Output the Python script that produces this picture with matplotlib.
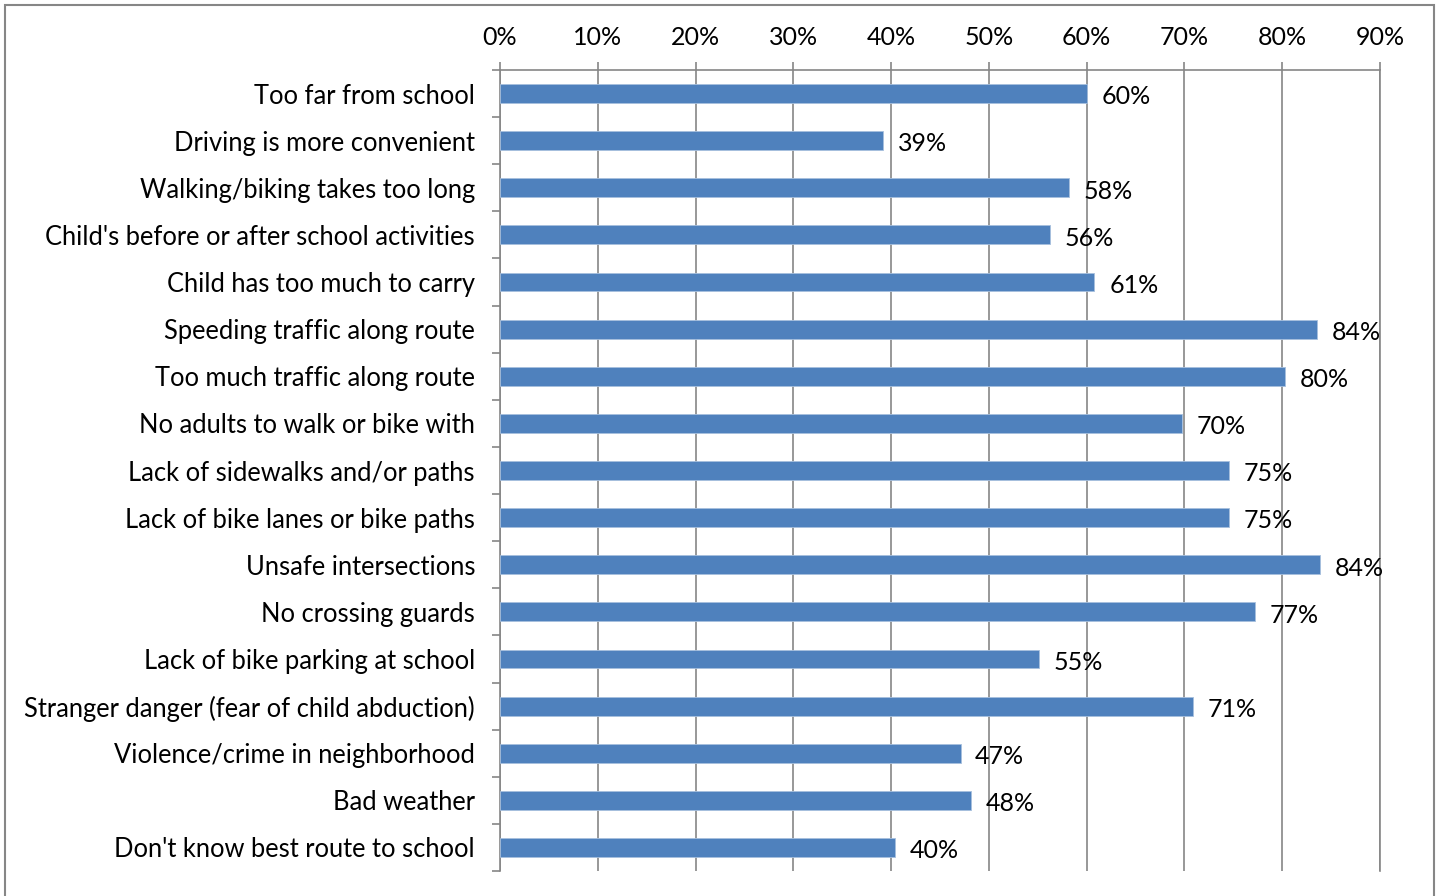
import matplotlib
matplotlib.use("Agg")
import matplotlib.pyplot as plt
from matplotlib.patches import Rectangle
from matplotlib.ticker import FixedLocator

plt.rcParams['font.family'] = ['Lato', 'DejaVu Sans']

reasons = [
    "Too far from school",
    "Driving is more convenient",
    "Walking/biking takes too long",
    "Child's before or after school activities",
    "Child has too much to carry",
    "Speeding traffic along route",
    "Too much traffic along route",
    "No adults to walk or bike with",
    "Lack of sidewalks and/or paths",
    "Lack of bike lanes or bike paths",
    "Unsafe intersections",
    "No crossing guards",
    "Lack of bike parking at school",
    "Stranger danger (fear of child abduction)",
    "Violence/crime in neighborhood",
    "Bad weather",
    "Don't know best route to school",
]
shares = [60.0, 39.2, 58.2, 56.2, 60.8, 83.6, 80.3, 69.7, 74.6, 74.6,
          83.9, 77.2, 55.1, 70.9, 47.1, 48.2, 40.4]
x_ticks = list(range(0, 100, 10))

grid_col = '#868686'
bar_col = '#4F81BD'

fig = plt.figure(figsize=(14.4, 8.96), dpi=100)
ax = fig.add_axes([500 / 1440, 1 - 871 / 896, 880 / 1440, 801 / 896])

pos = list(range(len(reasons)))
ax.barh(pos, shares, height=0.4, color=bar_col, edgecolor='#A7C0DE', linewidth=0.6, zorder=3)
for p, v in zip(pos, shares):
    ax.text(v + 1.5, p + 0.07, f"{round(v)}%", va='center', ha='left', fontsize=18, zorder=4)

ax.set_xlim(0, 90)
ax.set_ylim(len(reasons) - 0.5, -0.5)
ax.xaxis.tick_top()
ax.set_xticks(x_ticks)
ax.set_xticklabels([f"{t}%" for t in x_ticks])
ax.tick_params(axis='x', which='major', length=6, color=grid_col, width=1.2, pad=9, labelsize=18)
ax.grid(axis='x', color=grid_col, linewidth=1.2, zorder=0)

ax.set_yticks(pos)
ax.set_yticklabels(reasons)
ax.yaxis.set_minor_locator(FixedLocator([p - 0.5 for p in range(len(reasons) + 1)]))
ax.tick_params(axis='y', which='major', length=0, pad=18, labelsize=18.4)
ax.tick_params(axis='y', which='minor', length=6, color=grid_col, width=1.2)

for side in ['top', 'left', 'right']:
    ax.spines[side].set_color(grid_col)
    ax.spines[side].set_linewidth(1.2)
ax.spines['bottom'].set_visible(False)

fig.patches.append(Rectangle((5 / 1440, -0.01), 1429 / 1440, 1.01 - 5 / 896,
                             transform=fig.transFigure, fill=False,
                             edgecolor=grid_col, linewidth=1.5))

fig.savefig("out.png", dpi=100)
